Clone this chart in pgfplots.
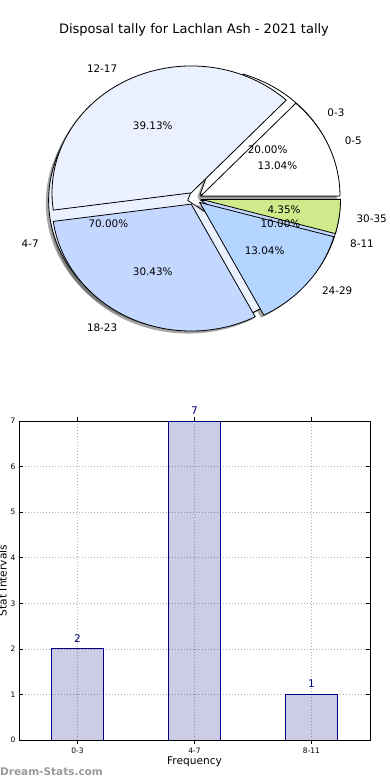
\documentclass[border=0pt]{standalone}
\usepackage{fontspec}
\setmainfont{DejaVu Sans}
\usepackage{pgfplots}
\pgfplotsset{compat=1.18}
\definecolor{cA}{HTML}{FFFFFF}
\definecolor{cB}{HTML}{EBF1FF}
\definecolor{cC}{HTML}{C4D8FF}
\definecolor{cD}{HTML}{B3D5FF}
\definecolor{cE}{HTML}{CEEA8A}
\definecolor{navy}{HTML}{000080}
\definecolor{wmgray}{HTML}{9A9A9A}
\newcommand\pf{\fontsize{10.4}{12}\selectfont}
% #1 start count, #2 count, #3 total, #4 explode, #5 shift x, #6 shift y, #7 style
\newcommand\wedgeslice[7]{%
  \pgfmathsetmacro\wS{#1/#3*360}%
  \pgfmathsetmacro\wE{(#1+#2)/#3*360}%
  \pgfmathsetmacro\wM{(\wS+\wE)/2}%
  \pgfmathsetmacro\wX{#4*cos(\wM)+#5}%
  \pgfmathsetmacro\wY{#4*sin(\wM)+#6}%
  \edef\doslice{\noexpand\addplot[#7, mark=none, domain=\wS:\wE, samples=90] ({\wX+cos(x)},{\wY+sin(x)}) -- (axis cs:\wX,\wY) -- cycle;}%
  \doslice
}
\begin{document}
\begin{tikzpicture}
\useasboundingbox (0,0) rectangle (390pt,780pt);
\node[anchor=base, font=\fontsize{13}{15}\selectfont] at (194pt,746.5pt) {Disposal tally for Lachlan Ash - 2021 tally};
\begin{axis}[scale only axis, width=375.84pt, height=329.94pt,
  xmin=-1.35, xmax=1.35, ymin=-1.3, ymax=1.3, hide axis, clip=false,
  at={(194.4pt,581.5pt)}, anchor=center]
% shadows (second pie: 0-3, 4-7, 8-11 ; first pie: 0-5 ... 30-35)
\wedgeslice{0}{2}{10}{0.05}{-0.02}{-0.02}{draw=none, fill=black!70, fill opacity=0.5}
\wedgeslice{2}{7}{10}{0.05}{-0.02}{-0.02}{draw=none, fill=black!70, fill opacity=0.5}
\wedgeslice{9}{1}{10}{0.05}{-0.02}{-0.02}{draw=none, fill=black!70, fill opacity=0.5}
\wedgeslice{0}{3}{23}{0.05}{-0.02}{-0.02}{draw=none, fill=black!70, fill opacity=0.5}
\wedgeslice{3}{9}{23}{0.05}{-0.02}{-0.02}{draw=none, fill=black!70, fill opacity=0.5}
\wedgeslice{12}{7}{23}{0.05}{-0.02}{-0.02}{draw=none, fill=black!70, fill opacity=0.5}
\wedgeslice{19}{3}{23}{0.05}{-0.02}{-0.02}{draw=none, fill=black!70, fill opacity=0.5}
\wedgeslice{22}{1}{23}{0.05}{-0.02}{-0.02}{draw=none, fill=black!70, fill opacity=0.5}
% second pie (values 2, 7, 1)
\wedgeslice{0}{2}{10}{0.05}{0}{0}{draw=black, line width=0.8pt, fill=cA}
\wedgeslice{2}{7}{10}{0.05}{0}{0}{draw=black, line width=0.8pt, fill=cB}
\wedgeslice{9}{1}{10}{0.05}{0}{0}{draw=black, line width=0.8pt, fill=cC}
% first pie (values 3, 9, 7, 3, 1)
\wedgeslice{0}{3}{23}{0.05}{0}{0}{draw=black, line width=0.8pt, fill=cA}
\wedgeslice{3}{9}{23}{0.05}{0}{0}{draw=black, line width=0.8pt, fill=cB}
\wedgeslice{12}{7}{23}{0.05}{0}{0}{draw=black, line width=0.8pt, fill=cC}
\wedgeslice{19}{3}{23}{0.05}{0}{0}{draw=black, line width=0.8pt, fill=cD}
\wedgeslice{22}{1}{23}{0.05}{0}{0}{draw=black, line width=0.8pt, fill=cE}
% labels
\node[anchor=west, font=\pf] at (axis cs:0.9304,0.6760) {0-3};
\node[anchor=east, font=\pf] at (axis cs:-1.0937,-0.3554) {4-7};
\node[anchor=west, font=\pf] at (axis cs:1.0937,-0.3554) {8-11};
\node[font=\pf] at (axis cs:0.5259,0.3821) {20.00\%};
\node[font=\pf] at (axis cs:-0.6182,-0.2009) {70.00\%};
\node[font=\pf] at (axis cs:0.6182,-0.2009) {10.00\%};
\node[anchor=west, font=\pf] at (axis cs:1.0548,0.4582) {0-5};
\node[anchor=east, font=\pf] at (axis cs:-0.529,1.0211) {12-17};
\node[anchor=east, font=\pf] at (axis cs:-0.529,-1.0211) {18-23};
\node[anchor=west, font=\pf] at (axis cs:0.892,-0.7259) {24-29};
\node[anchor=west, font=\pf] at (axis cs:1.1393,-0.1566) {30-35};
\node[font=\pf] at (axis cs:0.5962,0.2590) {13.04\%};
\node[font=\pf] at (axis cs:-0.299,0.5771) {39.13\%};
\node[font=\pf] at (axis cs:-0.299,-0.5771) {30.43\%};
\node[font=\pf] at (axis cs:0.5042,-0.4103) {13.04\%};
\node[font=\pf] at (axis cs:0.644,-0.0885) {4.35\%};
\end{axis}
\begin{axis}[at={(19pt,40pt)}, anchor=south west, scale only axis,
  width=351pt, height=319pt, xmin=-0.5, xmax=2.5, ymin=0, ymax=7,
  ytick={0,1,2,3,4,5,6,7}, xtick={0,1,2}, xticklabels={0-3,4-7,8-11},
  grid=major, grid style={dash pattern=on 1pt off 2pt, gray!60, line width=0.7pt},
  tick label style={font=\fontsize{7.5}{9}\selectfont},
  /pgf/number format/assume math mode=true,
  axis line style={black, line width=0.8pt}, major tick length=4pt,
  tick style={black, line width=0.6pt},
  ybar, bar width=0.45,
  nodes near coords,
  every node near coord/.append style={font=\fontsize{10.5}{12}\selectfont, text=navy, opacity=1, fill opacity=1, text opacity=1, yshift=3pt, /pgf/number format/assume math mode=true}]
\addplot[fill=navy, fill opacity=0.2, draw=navy, line width=0.8pt] coordinates {(0,2) (1,7) (2,1)};
\end{axis}
\node[rotate=90, anchor=base, font=\fontsize{10.6}{12}\selectfont] at (6.5pt,199.5pt) {Stat Intervals};
\node[anchor=base, font=\fontsize{10.6}{12}\selectfont] at (194.5pt,16pt) {Frequency};
\node[anchor=base west, inner sep=0pt, text=wmgray, font=\bfseries\fontsize{10.5}{12}\selectfont] at (0pt,5pt) {Dream-Stats.com};
\end{tikzpicture}
\end{document}
